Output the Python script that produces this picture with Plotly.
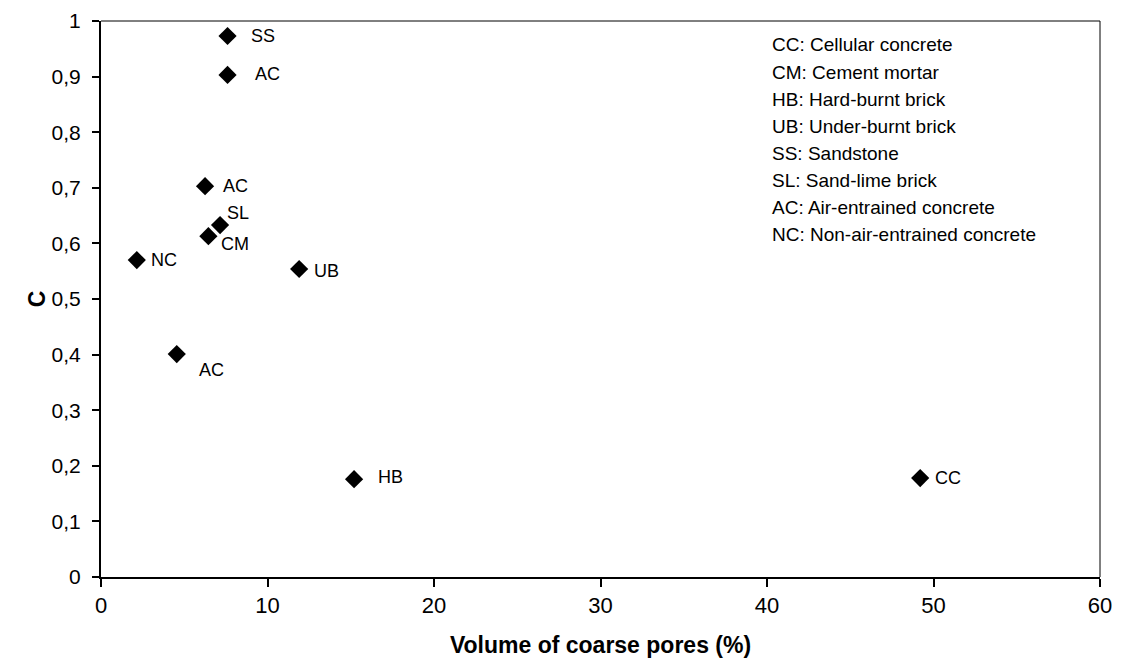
import plotly.graph_objects as go

labels = ["SS", "AC", "AC", "SL", "CM", "NC", "UB", "AC", "HB", "CC"]
coarse_pores = [7.6, 7.6, 6.25, 7.15, 6.45, 2.15, 11.9, 4.55, 15.2, 49.2]
c_values = [0.973, 0.903, 0.703, 0.633, 0.613, 0.570, 0.554, 0.401, 0.176, 0.178]
# label offsets (pixels) for each point's text: left gap and downward shift
label_dx = [21, 25, 16, 5, 11, 12, 13, 20, 22, 13]
label_dy = [0, -1, 0, -12, 8, 0, 2, 16, -2, 0]

x_ticks = [0, 10, 20, 30, 40, 50, 60]
y_ticks = [0, 0.1, 0.2, 0.3, 0.4, 0.5, 0.6, 0.7, 0.8, 0.9, 1]
y_tick_text = ["0", "0,1", "0,2", "0,3", "0,4", "0,5", "0,6", "0,7", "0,8", "0,9", "1"]

legend_lines = [
    "CC: Cellular concrete",
    "CM: Cement mortar",
    "HB: Hard-burnt brick",
    "UB: Under-burnt brick",
    "SS: Sandstone",
    "SL: Sand-lime brick",
    "AC: Air-entrained concrete",
    "NC: Non-air-entrained concrete",
]

font_family = "Liberation Sans, Arial, sans-serif"

fig = go.Figure()
fig.add_trace(go.Scatter(
    x=coarse_pores, y=c_values, mode="markers",
    marker=dict(symbol="diamond", size=14, color="black"),
    showlegend=False, hoverinfo="skip",
))

for xv, yv, lab, dx, dy in zip(coarse_pores, c_values, labels, label_dx, label_dy):
    fig.add_annotation(x=xv, y=yv, text=lab, showarrow=False,
                       xanchor="left", yanchor="middle",
                       xshift=dx, yshift=-dy,
                       font=dict(family=font_family, size=18, color="black"))

line_gap = 27.1
for i, line in enumerate(legend_lines):
    fig.add_annotation(
        xref="paper", yref="paper", x=0.670, y=0.957, xanchor="left", yanchor="middle",
        yshift=-line_gap * i,
        text=line, align="left", showarrow=False,
        font=dict(family=font_family, size=19, color="black"),
    )

# thin frame on top and right
fig.add_shape(type="line", xref="paper", yref="paper", x0=0, x1=1, y0=1, y1=1,
              line=dict(color="black", width=1))
fig.add_shape(type="line", xref="paper", yref="paper", x0=1, x1=1, y0=0, y1=1,
              line=dict(color="black", width=1))

fig.update_layout(
    width=1107, height=650,
    margin=dict(l=93, r=15, t=13, b=81, autoexpand=False),
    plot_bgcolor="white", paper_bgcolor="white",
    font=dict(family=font_family, color="black"),
    xaxis=dict(
        range=[0, 60], tickvals=x_ticks, ticks="outside", ticklen=8, tickwidth=1.5,
        tickcolor="black", showline=True, linecolor="black", linewidth=2,
        showgrid=False, zeroline=False, automargin=False,
        tickfont=dict(family=font_family, size=22),
        title=dict(text="<b>Volume of coarse pores (%)</b>", font=dict(family=font_family, size=23), standoff=29),
    ),
    yaxis=dict(
        range=[0, 1], tickvals=y_ticks, ticktext=y_tick_text, ticks="outside", ticklen=7, tickwidth=1.5,
        tickcolor="black", showline=True, linecolor="black", linewidth=2,
        showgrid=False, zeroline=False, automargin=False, ticklabelstandoff=7,
        tickfont=dict(family=font_family, size=21),
        title=dict(text="<b>C</b>", font=dict(family=font_family, size=23), standoff=0),
    ),
)

fig.write_html("out.html")
